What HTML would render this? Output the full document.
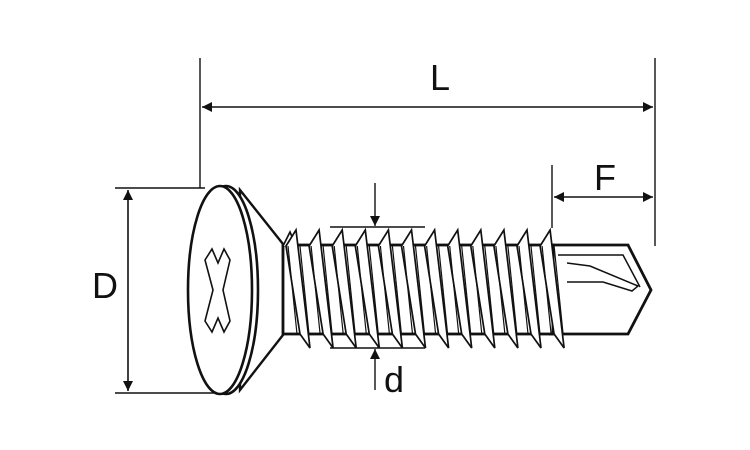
<!DOCTYPE html>
<html><head><style>
html,body{margin:0;padding:0;background:#fff;width:750px;height:450px;overflow:hidden}
svg{display:block}
text{font-family:"Liberation Sans",Arial,sans-serif;fill:#111}
</style></head><body>
<svg id="s" width="750" height="450" viewBox="0 0 750 450" xmlns="http://www.w3.org/2000/svg">
<defs>
<marker id="a" viewBox="0 0 10 10" refX="10" refY="5" markerWidth="14" markerHeight="10" orient="auto-start-reverse" markerUnits="userSpaceOnUse"><path d="M0,0 L10,5 L0,10 z" fill="#111"/></marker>
</defs>
<g stroke="#111" stroke-width="1.4" fill="none">
<line x1="200" y1="58" x2="200" y2="188"/>
<line x1="655" y1="58" x2="655" y2="246"/>
<line x1="202" y1="107" x2="653" y2="107" marker-start="url(#a)" marker-end="url(#a)" stroke-width="1.6"/>
<line x1="552" y1="165" x2="552" y2="228"/>
<line x1="554" y1="197" x2="653" y2="197" marker-start="url(#a)" marker-end="url(#a)" stroke-width="1.6"/>
<line x1="115" y1="188" x2="205" y2="188"/>
<line x1="115" y1="393" x2="215" y2="393"/>
<line x1="128" y1="190" x2="128" y2="391" marker-start="url(#a)" marker-end="url(#a)" stroke-width="1.6"/>
<line x1="330" y1="227" x2="425" y2="227"/>
<line x1="330" y1="348" x2="425" y2="348"/>
<line x1="375" y1="183" x2="375" y2="226" marker-end="url(#a)"/>
<line x1="375" y1="390" x2="375" y2="349" marker-end="url(#a)"/>
</g>
<g stroke="#111" stroke-width="2.6" fill="#fff" stroke-linejoin="miter">
<path d="M240,190 L283,244 L283,335 L240,390 Z" stroke-width="2.4"/>
<ellipse cx="226" cy="290" rx="32" ry="104"/>
<ellipse cx="220" cy="290" rx="32" ry="104"/>
<path d="M205,260 L212,249 L218,263 L224,249 L230,260 L223,290 L230,321 L224,332 L218,318 L212,332 L205,321 L213,290 Z" stroke-width="1.6"/>
<path d="M550,245 L628,245 L651,290 L628,334 L550,334 Z" stroke-width="2.8"/>
<rect x="283" y="245" width="270" height="89" stroke-width="2.8"/>
</g>
<g stroke="#111" stroke-width="1.5" fill="none">
<path d="M558,255 L623,255 L640,287"/>
<path d="M567,263 L590,266 L638,286 L632,291 L603,282 L567,282"/>
</g>
<g id="th" stroke="#111" stroke-width="1.7" fill="#fff" stroke-linejoin="miter"></g>
<text x="430" y="90" font-size="36">L</text>
<text x="594" y="190" font-size="36">F</text>
<text x="92" y="298" font-size="36">D</text>
<text x="384" y="392" font-size="36">d</text>
</svg>
<script>
var g=document.getElementById('th'),h='';
for(var i=0;i<12;i++){var c=296+i*23.1;
h+='<path d="M'+(c-10)+',246 L'+c+',230 L'+(c+14)+',348 L'+(c+4)+',334 Z"/>';
h+='<path fill="none" stroke-width="1.2" d="M'+(c+4)+',246 L'+(c+13)+',334 M'+(c-8)+',246 L'+(c+1)+',334"/>';}
h='<path d="M283,246 L290,232 L296,246"/>'+h;
g.innerHTML=h;
</script>
</body></html>
